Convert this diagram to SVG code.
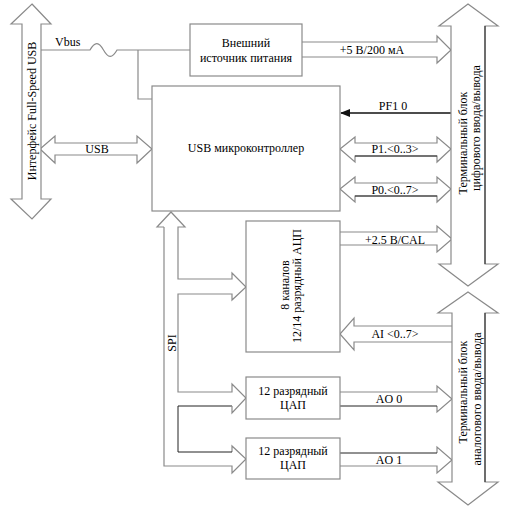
<svg xmlns="http://www.w3.org/2000/svg" width="512" height="508" viewBox="0 0 512 508" font-family="'Liberation Serif', 'Times New Roman', serif">
<defs>
<style>
text{font-family:"Liberation Serif","Times New Roman",serif;font-size:12px;fill:#000}
.m{text-anchor:middle}
.g{fill:none;stroke:#8a8a8a;stroke-width:1.2}
.gw{fill:#fff;stroke:#8a8a8a;stroke-width:1.2}
.k{fill:none;stroke:#222;stroke-width:1}
</style>
<marker id="ah" markerWidth="10" markerHeight="8" refX="9" refY="4" orient="auto" markerUnits="userSpaceOnUse">
<path d="M0,0 L10,4 L0,8 Z" fill="#111"/>
</marker>
</defs>
<rect width="512" height="508" fill="#fff"/>

<g id="connectors">
<path class="g" d="M41,50 H90 C95,41 99,42 103.5,50 C108,58 112,59 117,50 H190"/>
<path class="g" d="M138,50 V99 H152"/>
<path class="gw" d="M40,149 L55,136 V143 H137 V136 L152,149 L137,163 V155 H55 V163 Z"/>
<path class="g" d="M302,42 H437 V36 L451,50 L437,63 V57 H302"/>
<line x1="451" y1="113" x2="341" y2="113" stroke="#111" stroke-width="1.6" marker-end="url(#ah)"/>
<path class="gw" d="M340,149 L355,137 V143 H437 V137 L451,149 L437,162 V156 H355 V162 Z"/>
<line class="k" x1="355" y1="156" x2="437" y2="156"/>
<path class="gw" d="M340,189 L355,177 V183 H437 V177 L451,189 L437,202 V196 H355 V202 Z"/>
<line class="k" x1="355" y1="196" x2="437" y2="196"/>
<path class="g" d="M340,232 H437 V226 L452,239 L437,252 V245 H340"/>
<path class="g" d="M452,326 H354 V318 L340,334 L354,350 V342 H452"/>
<path class="g" d="M340,392 H437 V386 L452,399 L437,412 V406"/>
<line class="k" x1="340" y1="406" x2="437" y2="406"/>
<path class="g" d="M340,466 H437 V473 L452,460 L437,447 V453"/>
<line class="k" x1="340" y1="453" x2="437" y2="453"/>
<path class="g" d="M164,227 V466 H232 V473 L246,459 L232,446 V452"/>
<path class="k" d="M232,452 H178 V406 H232"/>
<path class="g" d="M232,406 V413 L246,398 L232,384 V392 H178 V294 H232 V300 L246,287 L232,273 V279 H178 V227 H185 L171,212 L157,227 H164"/>
</g>

<g id="usb-interface">
<path class="gw" d="M32,4 L51,24 H41 V199 H51 L32,219 L11,199 H22 V24 H11 Z"/>
<text class="m" transform="translate(36,111) rotate(-90)">Интерфейс Full-Speed USB</text>
</g>

<g id="labels">
<text x="55" y="46">Vbus</text>
<text class="m" x="97" y="153">USB</text>
<text class="m" x="372" y="54">+5 В/200 мА</text>
<text class="m" x="393" y="110">PF1 0</text>
<text class="m" x="395" y="153">P1.&lt;0..3&gt;</text>
<text class="m" x="395" y="194">P0.&lt;0..7&gt;</text>
<text class="m" x="395" y="244">+2.5 В/CAL</text>
<text class="m" x="395" y="338">AI &lt;0..7&gt;</text>
<text class="m" x="389" y="403">AO 0</text>
<text class="m" x="389" y="464">AO 1</text>
<text class="m" transform="translate(176,343) rotate(-90)">SPI</text>
</g>

<g id="power">
<rect class="gw" x="190" y="24" width="112" height="52"/>
<text class="m" x="246" y="47">Внешний</text>
<text class="m" x="246" y="62">источник питания</text>
</g>

<g id="mcu">
<rect class="gw" x="152" y="86" width="188" height="125"/>
<text class="m" x="246" y="152">USB микроконтроллер</text>
</g>

<g id="adc">
<rect class="gw" x="246" y="221" width="94" height="131"/>
<text class="m" transform="translate(289,285) rotate(-90)">8 каналов</text>
<text class="m" transform="translate(301,286) rotate(-90)">12/14 разрядный АЦП</text>
</g>

<g id="dac0">
<rect class="gw" x="246" y="377" width="94" height="42"/>
<text class="m" x="293" y="395">12 разрядный</text>
<text class="m" x="293" y="409">ЦАП</text>
</g>

<g id="dac1">
<rect class="gw" x="246" y="438" width="94" height="41"/>
<text class="m" x="293" y="455">12 разрядный</text>
<text class="m" x="293" y="469">ЦАП</text>
</g>

<g id="digital-terminal">
<path class="gw" d="M468,4 L498,26 H485 V264 H498 L468,286 L439,264 H451 V26 H439 Z"/>
<line class="k" x1="485" y1="26" x2="485" y2="264"/>
<text class="m" transform="translate(467,143) rotate(-90)">Терминальный блок</text>
<text class="m" transform="translate(480,128) rotate(-90)">цифрового ввода/вывода</text>
</g>

<g id="analog-terminal">
<path class="gw" d="M468,292 L498,313 H485 V482 H498 L468,505 L438,482 H452 V313 H438 Z"/>
<line class="k" x1="485" y1="313" x2="485" y2="482"/>
<text class="m" transform="translate(467,392) rotate(-90)">Терминальный блок</text>
<text class="m" transform="translate(481,399) rotate(-90)">аналогового ввода/вывода</text>
</g>
</svg>
